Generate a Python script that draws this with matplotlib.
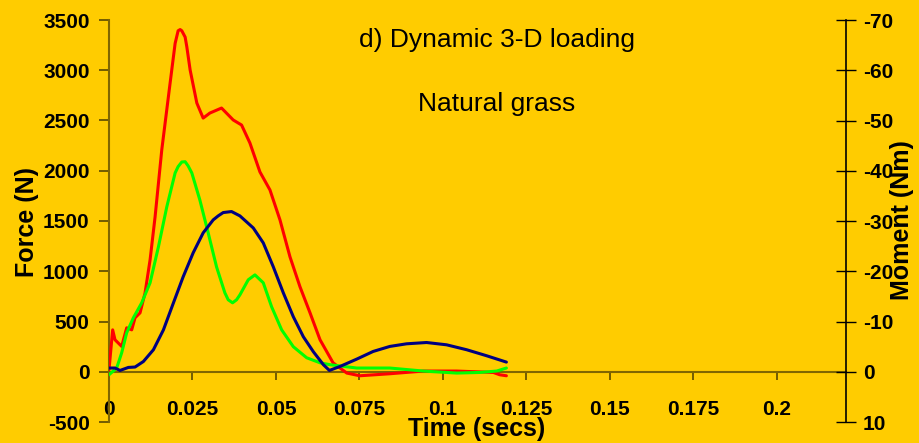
import matplotlib
matplotlib.use("Agg")
import matplotlib.pyplot as plt

plt.rcParams['font.family'] = ['Liberation Sans', 'DejaVu Sans']
plt.rcParams['axes.unicode_minus'] = False

# Vertical force (N)
t_red = [0.0, 0.0011, 0.0018, 0.0038, 0.0053, 0.0068, 0.0078, 0.0093, 0.0108, 0.0123,
         0.0138, 0.0158, 0.0183, 0.0198, 0.0207, 0.0213, 0.0218, 0.0228, 0.0233, 0.0243,
         0.0263, 0.0282, 0.0302, 0.0337, 0.0372, 0.0397, 0.0422, 0.0452, 0.0482, 0.0512,
         0.0542, 0.0572, 0.0602, 0.0632, 0.0671, 0.0712, 0.0751, 0.0841, 0.0941, 0.1041,
         0.1151, 0.117, 0.119]
f_red = [20, 417, 318, 252, 437, 417, 537, 586, 785, 1113,
         1541, 2207, 2873, 3267, 3393, 3405, 3393, 3330, 3234, 3002,
         2674, 2524, 2574, 2624, 2505, 2455, 2276, 1988, 1809, 1511,
         1143, 845, 586, 318, 89, -13, -40, -20, 7, 7,
         -7, -30, -40]

# Horizontal force (N)
t_green = [0.0, 0.0023, 0.0038, 0.0053, 0.0073, 0.0098, 0.0123, 0.0148, 0.0173, 0.0198,
           0.0207, 0.0218, 0.0228, 0.0237, 0.0248, 0.0272, 0.0297, 0.0322, 0.0347, 0.0357,
           0.037, 0.0382, 0.0392, 0.0417, 0.0437, 0.0462, 0.0487, 0.0517, 0.0552, 0.0592,
           0.0632, 0.0662, 0.0742, 0.0841, 0.0941, 0.1041, 0.111, 0.1161, 0.119]
f_green = [-30, 37, 189, 388, 537, 686, 885, 1243, 1640, 1978,
           2041, 2087, 2090, 2048, 1978, 1710, 1382, 1044, 785, 716,
           686, 716, 765, 915, 964, 885, 646, 417, 249, 139,
           89, 70, 37, 37, 7, -13, -7, 7, 37]

# Moment (Nm)
t_blue = [0.0, 0.0018, 0.0033, 0.0058, 0.0078, 0.0103, 0.0133, 0.0163, 0.0193, 0.0222,
          0.0252, 0.0282, 0.0312, 0.0327, 0.0342, 0.0367, 0.0392, 0.0432, 0.0462, 0.0492,
          0.0522, 0.0552, 0.0582, 0.0612, 0.0642, 0.066, 0.0692, 0.0742, 0.0791, 0.0841,
          0.0891, 0.0951, 0.1011, 0.1071, 0.1131, 0.119]
m_blue = [-0.74, -0.74, -0.26, -0.86, -0.94, -2.04, -4.38, -8.34, -13.72, -18.88,
          -23.66, -27.64, -30.22, -31.02, -31.68, -31.88, -31.02, -28.62, -25.64, -20.88,
          -15.70, -10.94, -6.96, -3.98, -1.40, -0.26, -1.06, -2.52, -4.04, -5.04,
          -5.56, -5.82, -5.36, -4.38, -3.18, -1.92]

x_ticks = [0, 0.025, 0.05, 0.075, 0.1, 0.125, 0.15, 0.175, 0.2]
x_labels = ['0', '0.025', '0.05', '0.075', '0.1', '0.125', '0.15', '0.175', '0.2']
f_ticks = list(range(-500, 3501, 500))
m_ticks = list(range(-70, 11, 10))

bg = '#FFCC00'
axis_col = '#806600'

fig = plt.figure(figsize=(9.2, 4.43), dpi=100, facecolor=bg)
W, H = 920, 443
ax = fig.add_axes([109 / W, (H - 422) / H, (846 - 109) / W, (422 - 20) / H])
ax.set_facecolor(bg)

line_kw = dict(lw=2.2, zorder=3, solid_joinstyle='round', solid_capstyle='round')
ax.plot(t_red, f_red, color='#FF0000', **line_kw)
ax.plot(t_green, f_green, color='#00FF00', **line_kw)

ax.set_xlim(0, 0.2207)
ax.set_ylim(-500, 3500)

for s in ['top', 'right']:
    ax.spines[s].set_visible(False)
ax.spines['bottom'].set_position(('data', 0))
ax.spines['bottom'].set_color(axis_col)
ax.spines['bottom'].set_linewidth(1.5)
ax.spines['left'].set_color(axis_col)
ax.spines['left'].set_linewidth(1.5)

ax.set_xticks(x_ticks)
ax.set_xticklabels(x_labels)
ax.set_yticks(f_ticks)
ax.tick_params(axis='x', direction='out', length=6, width=1.2, color='#5a4800',
               pad=14, labelsize=15)
ax.tick_params(axis='y', direction='out', length=7, width=1.2, color='#5a4800',
               pad=7, labelsize=15)
for lab in ax.get_xticklabels() + ax.get_yticklabels():
    lab.set_fontweight('bold')

ax2 = ax.twinx()
ax2.plot(t_blue, m_blue, color='#000080', **line_kw)
ax2.set_ylim(10, -70)
ax2.set_yticks(m_ticks)
for s in ['top', 'left', 'bottom']:
    ax2.spines[s].set_visible(False)
ax2.spines['right'].set_color('black')
ax2.spines['right'].set_linewidth(1.2)
ax2.tick_params(axis='y', direction='inout', length=14, width=1.0, color='black',
                pad=5, labelsize=15)
for lab in ax2.get_yticklabels():
    lab.set_fontweight('bold')

fig.text(27 / W, 1 - 222 / H, 'Force (N)', rotation=90, ha='center', va='center',
         fontsize=18, fontweight='bold')
fig.text(902 / W, 1 - 220 / H, 'Moment (Nm)', rotation=90, ha='center', va='center',
         fontsize=18, fontweight='bold')
fig.text(477 / W, 1 - 429 / H, 'Time (secs)', ha='center', va='center',
         fontsize=18, fontweight='bold')
fig.text(497 / W, 1 - 40 / H, 'd) Dynamic 3-D loading', ha='center', va='center',
         fontsize=19)
fig.text(497 / W, 1 - 104 / H, 'Natural grass', ha='center', va='center',
         fontsize=19)

fig.savefig('out.png', dpi=100, facecolor=bg)
